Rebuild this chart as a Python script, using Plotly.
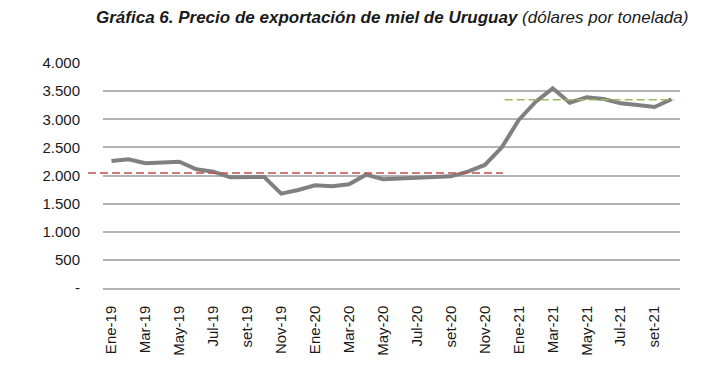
import plotly.graph_objects as go

# ---- data ----
months = ["Ene-19", "Feb-19", "Mar-19", "Abr-19", "May-19", "Jun-19", "Jul-19", "Ago-19",
          "set-19", "Oct-19", "Nov-19", "Dic-19",
          "Ene-20", "Feb-20", "Mar-20", "Abr-20", "May-20", "Jun-20", "Jul-20", "Ago-20",
          "set-20", "Oct-20", "Nov-20", "Dic-20",
          "Ene-21", "Feb-21", "Mar-21", "Abr-21", "May-21", "Jun-21", "Jul-21", "Ago-21",
          "set-21", "Oct-21"]
price = [2258, 2288, 2217, 2235, 2245, 2110, 2068, 1967, 1973, 1973, 1677, 1742,
         1826, 1808, 1843, 2015, 1935, 1950, 1961, 1980, 1985, 2068, 2187, 2500,
         2987, 3313, 3550, 3295, 3390, 3360, 3283, 3253, 3218, 3355]
tick_labels = ["Ene-19", "Mar-19", "May-19", "Jul-19", "set-19", "Nov-19",
               "Ene-20", "Mar-20", "May-20", "Jul-20", "set-20", "Nov-20",
               "Ene-21", "Mar-21", "May-21", "Jul-21", "set-21"]
y_ticks = [0, 500, 1000, 1500, 2000, 2500, 3000, 3500, 4000]
y_tick_labels = ["-", "500", "1.000", "1.500", "2.000", "2.500", "3.000", "3.500", "4.000"]
avg_2019_2020 = 2044
avg_2021 = 3348

n = len(months)
def frac(i):
    return (i + 0.5) / n

fig = go.Figure()
fig.add_trace(go.Scatter(
    x=months, y=price, mode="lines",
    line=dict(color="#808080", width=4),
    hoverinfo="x+y", showlegend=False,
))

# average reference lines
fig.add_shape(type="line", xref="paper", yref="y",
              x0=-0.026, x1=frac(months.index("Dic-20")) + 0.002,
              y0=avg_2019_2020, y1=avg_2019_2020,
              line=dict(color="#c0504d", width=1.5, dash="8px,4px"))
fig.add_shape(type="line", xref="paper", yref="y",
              x0=frac(months.index("Dic-20")) + 0.005, x1=frac(months.index("Oct-21")) + 0.004,
              y0=avg_2021, y1=avg_2021,
              line=dict(color="#9bbb59", width=1.5, dash="8px,4px"))

fig.update_layout(
    width=723, height=373,
    margin=dict(l=103, r=43, t=63, b=85, autoexpand=False),
    paper_bgcolor="white", plot_bgcolor="white",
    font=dict(family="Liberation Sans, Arial, sans-serif", color="#262626"),
    title=dict(
        text="<b><i>Gráfica 6. Precio de exportación de miel de Uruguay</i></b> <i>(dólares por tonelada)</i>",
        xref="container", yref="container",
        x=96 / 723, xanchor="left", y=1 - 17 / 373, yanchor="middle",
        font=dict(size=17, color="#1a1a1a"),
    ),
    xaxis=dict(
        type="category", categoryorder="array", categoryarray=months,
        range=[-0.5, n - 0.5], automargin=False,
        tickmode="array", tickvals=tick_labels, ticktext=tick_labels,
        tickangle=-90, tickfont=dict(size=15, color="#1a1a1a"),
        showgrid=False, showline=True, linecolor="#b3b3b3", linewidth=1.5,
        ticks="", ticklabelstandoff=10, zeroline=False,
    ),
    yaxis=dict(
        range=[0, 4000], tickmode="array", tickvals=y_ticks, ticktext=y_tick_labels,
        tickfont=dict(size=15, color="#1a1a1a"), automargin=False,
        showgrid=True, gridcolor="#b3b3b3", gridwidth=1.5,
        zeroline=False, showline=False, ticks="", ticklabelstandoff=22,
    ),
)

fig.write_html("out.html", config={"displayModeBar": False},
               post_script="document.body.style.margin='0px';")
